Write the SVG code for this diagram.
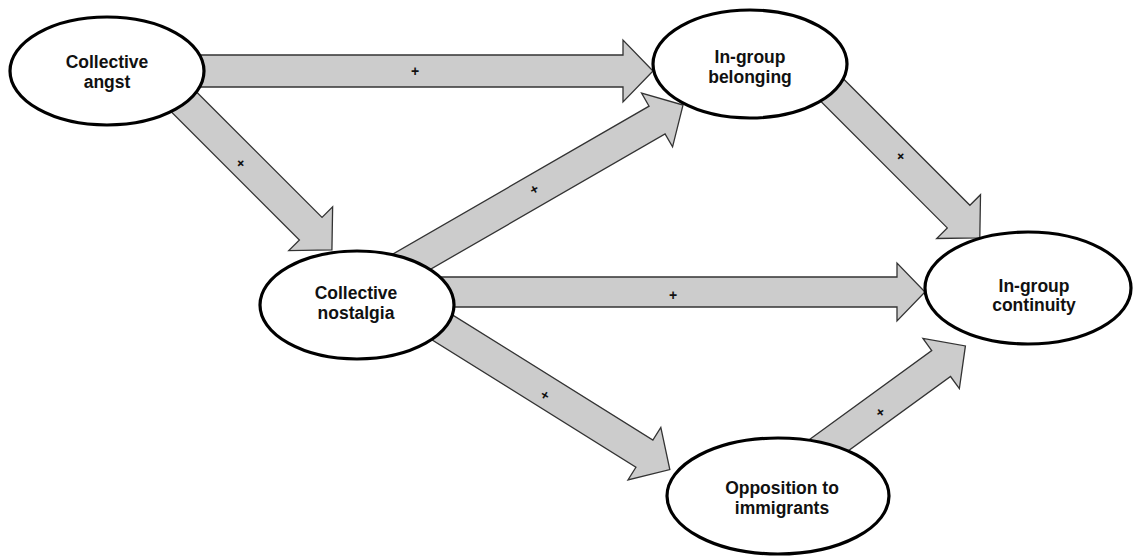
<svg xmlns="http://www.w3.org/2000/svg" width="1134" height="556" viewBox="0 0 1134 556">
<style>
.arr{fill:#cccccc;stroke:#333333;stroke-width:1.3;stroke-linejoin:miter}
.node{fill:#ffffff;stroke:#000000;stroke-width:3.2}
.lbl{font-family:"Liberation Sans",Arial,sans-serif;font-weight:bold;font-size:17.5px;fill:#111111;text-anchor:middle}
.pl{font-family:"Liberation Sans",Arial,sans-serif;font-weight:bold;font-size:14px;fill:#111111;text-anchor:middle;dominant-baseline:central}
</style>
<rect width="1134" height="556" fill="#ffffff"/>
<g id="connectors">
  <polygon class="arr" transform="translate(190,71)" points="0,-16 433,-16 433,-31 463,0 433,31 433,16 0,16"/>
  <polygon class="arr" transform="translate(170,88) rotate(45)" points="0,-16 199,-16 199,-31 229,0 199,31 199,16 0,16"/>
  <polygon class="arr" transform="translate(420,292)" points="0,-15 477,-15 477,-29 505,0 477,29 477,15 0,15"/>
  <polygon class="arr" transform="translate(388.6,275) rotate(-30)" points="0,-16 310,-16 310,-31 340,0 310,31 310,16 0,16"/>
  <polygon class="arr" transform="translate(820,78) rotate(45)" points="0,-16 196,-16 196,-31 226,0 196,31 196,16 0,16"/>
  <polygon class="arr" transform="translate(423.9,315.9) rotate(32)" points="0,-16 260,-16 260,-31 290,0 260,31 260,16 0,16"/>
  <polygon class="arr" transform="translate(811.7,457.6) rotate(-36)" points="0,-16 160,-16 160,-31 190,0 160,31 160,16 0,16"/>
  <text class="pl" x="415" y="71">+</text>
  <text class="pl" transform="translate(241,163) rotate(45)">+</text>
  <text class="pl" transform="translate(534,189) rotate(-30)">+</text>
  <text class="pl" x="673" y="295">+</text>
  <text class="pl" transform="translate(901,156) rotate(45)">+</text>
  <text class="pl" transform="translate(545,395) rotate(32)">+</text>
  <text class="pl" transform="translate(880,412) rotate(-36)">+</text>
</g>
<g id="node-angst">
  <ellipse class="node" cx="107" cy="71" rx="97" ry="54"/>
  <text class="lbl" x="107" y="68">Collective</text>
  <text class="lbl" x="107" y="88">angst</text>
</g>
<g id="node-belonging">
  <ellipse class="node" cx="750" cy="64" rx="97" ry="54"/>
  <text class="lbl" x="750" y="63">In-group</text>
  <text class="lbl" x="750" y="83">belonging</text>
</g>
<g id="node-nostalgia">
  <ellipse class="node" cx="357" cy="305" rx="97" ry="54"/>
  <text class="lbl" x="356" y="299">Collective</text>
  <text class="lbl" x="356" y="319">nostalgia</text>
</g>
<g id="node-continuity">
  <ellipse class="node" cx="1028" cy="288" rx="103" ry="56"/>
  <text class="lbl" x="1034" y="292">In-group</text>
  <text class="lbl" x="1034" y="311">continuity</text>
</g>
<g id="node-opposition">
  <ellipse class="node" cx="778" cy="496" rx="111" ry="58"/>
  <text class="lbl" x="782" y="494">Opposition to</text>
  <text class="lbl" x="782" y="514">immigrants</text>
</g>
</svg>
